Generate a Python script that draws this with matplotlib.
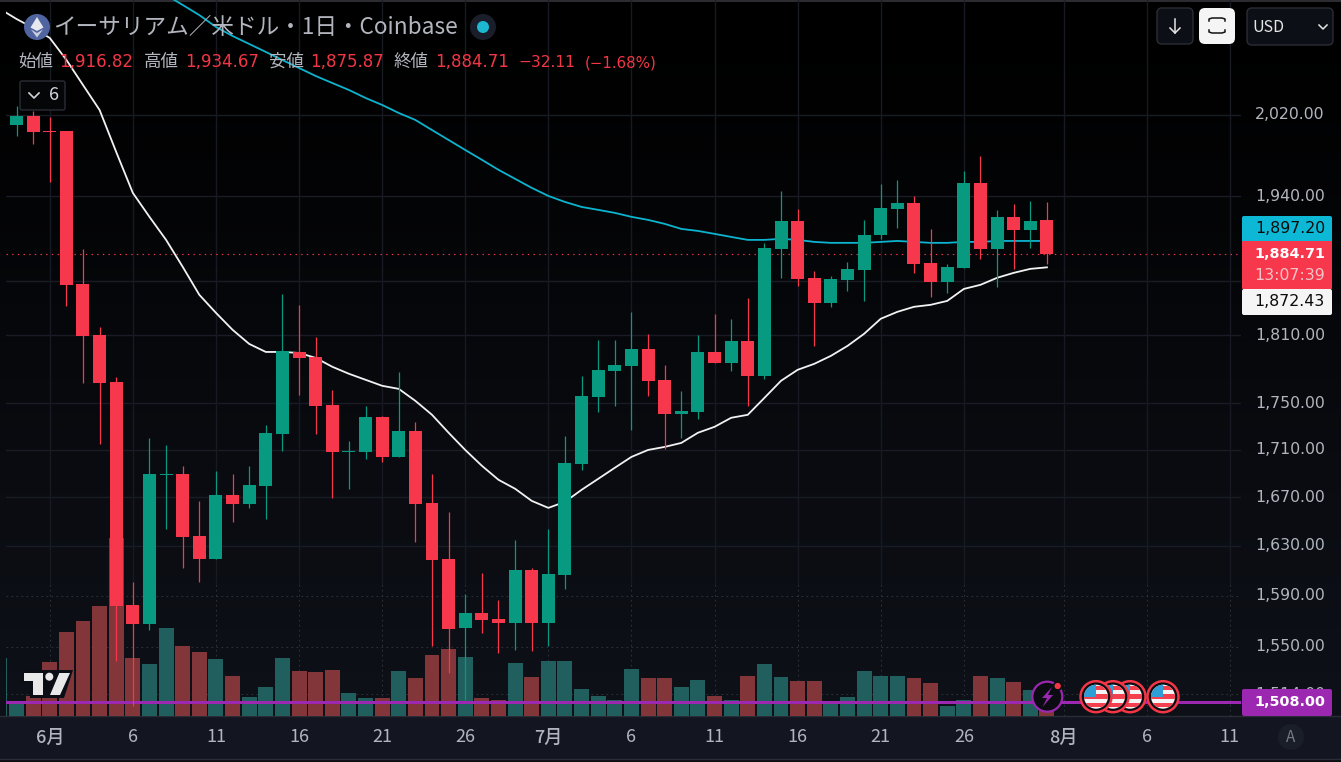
import matplotlib
matplotlib.use('Agg')
import matplotlib.pyplot as plt
import numpy as np
from matplotlib.patches import Circle, FancyBboxPatch, Polygon, Rectangle
from matplotlib.ticker import NullLocator
from matplotlib.transforms import ScaledTranslation

plt.rcParams['font.family'] = ['Noto Sans CJK JP', 'DejaVu Sans']

# daily candles, 30 May to 31 Jul
opens = [2010, 2019, 2004, 2004, 1857.1, 1810.6, 1768.9, 1582.8, 1568, 1688.6,
         1689.5, 1638.2, 1619.5, 1671.9, 1664.4, 1679.5, 1723.5, 1795.2, 1790.8, 1748.5,
         1708, 1708, 1738.1, 1703.8, 1726.1, 1665.2, 1619.5, 1564.9, 1576.6, 1571.9,
         1568.8, 1610.7, 1568.8, 1606.7, 1698, 1755.5, 1778.4, 1782.9, 1797.9, 1770.4,
         1740.7, 1742.5, 1795.2, 1785.5, 1805.1, 1774, 1889.7, 1916.3, 1862.7, 1839.6,
         1860.9, 1870, 1903, 1928, 1933.4, 1876.7, 1859.1, 1872, 1952.8, 1889.7,
         1920.1, 1907.7, 1916.82]
highs = [2029, 2024, 2018, 2004, 1889.7, 1817.8, 1773, 1601, 1720, 1714,
         1696.3, 1666.9, 1692, 1689.5, 1696.3, 1731.2, 1847.9, 1837.8, 1808.8, 1761.6,
         1717.5, 1747.6, 1739, 1777.5, 1733.8, 1689.5, 1657.9, 1591.5, 1608.3, 1586.7,
         1634.9, 1612.3, 1643.9, 1722, 1774, 1806, 1806, 1831.4, 1811.5, 1783.7,
         1760.8, 1810.6, 1829.6, 1825.1, 1844.2, 1895.4, 1945, 1927.7, 1869.2, 1864.6,
         1877.6, 1917.3, 1951.9, 1955.8, 1940.2, 1908.6, 1875.7, 1964.6, 1979.2, 1926.8,
         1932.5, 1935.4, 1934.67]
lows = [1999, 1991, 1954, 1837, 1767.8, 1714.9, 1539.3, 1505, 1563.3, 1643.9,
        1612.3, 1601, 1619.5, 1649.7, 1661.1, 1652.1, 1708.9, 1757.2, 1723.5, 1669.4,
        1677, 1702.1, 1699.6, 1703.8, 1633.3, 1550.8, 1530.2, 1509.7, 1561, 1545.4,
        1547.7, 1546.9, 1550.8, 1595.5, 1692.9, 1742.5, 1747.6, 1726.9, 1756.3, 1710.5,
        1720, 1736.4, 1785.5, 1778.4, 1747.6, 1771.3, 1862.7, 1855.3, 1800.6, 1836,
        1850.7, 1841.4, 1899.2, 1909.6, 1867.3, 1845, 1848.8, 1872, 1880.3, 1854.4,
        1871, 1890.6, 1875.87]
closes = [2019, 2003, 2003, 1856.2, 1809.7, 1768, 1582, 1568, 1689.5, 1689.5,
          1637.4, 1619.5, 1671.9, 1664.4, 1680.3, 1724.4, 1796.1, 1789.9, 1747.6, 1708,
          1709, 1738.1, 1703.8, 1726.1, 1664.4, 1618.7, 1564.1, 1576.6, 1571.1, 1568.8,
          1610.7, 1568.8, 1607.5, 1698.8, 1756.3, 1779.3, 1783.7, 1797.9, 1769.6, 1740.7,
          1743.3, 1795.2, 1785.5, 1805.1, 1774, 1890.6, 1916.3, 1861.8, 1839.6, 1861.8,
          1871, 1903, 1928.8, 1933.4, 1875.7, 1859.1, 1872.9, 1952.8, 1889.7, 1920.1,
          1907.7, 1916.3, 1884.71]

# first value belongs to 29 May, whose bar is cut by the left edge
volumes = [58, 15, 20, 54, 84, 95, 110, 178, 58, 52, 88,
           70, 64, 57, 40, 19, 29, 58, 45, 44, 46,
           23, 18, 18, 45, 38, 61, 67, 59, 18, 16,
           53, 39, 55, 55, 27, 20, 16, 47, 38, 38,
           29, 36, 20, 16, 40, 52, 39, 35, 35, 13,
           19, 45, 40, 40, 38, 33, 10, 16, 40, 38,
           34, 26, 10]

ma_fast = [2129.5, 2118.9, 2109.5, 2099, 2076.2, 2050.4, 2025, 1983.1, 1943.1, 1920.1, 1898.2,
           1872.9, 1847, 1830.5, 1815.1, 1802.4, 1795.2, 1795.2, 1794.3, 1789.9, 1782,
           1775.8, 1770.5, 1765.2, 1762.5, 1752, 1739.9, 1724.4, 1709.7, 1696.3, 1684.5,
           1677, 1666.9, 1661.1, 1666.1, 1676.1, 1685.3, 1694.6, 1703.8, 1709.7, 1712.3,
           1715.7, 1724.4, 1729.5, 1737.3, 1739.9, 1754.6, 1769.6, 1779.3, 1784.6, 1791.7,
           1800.6, 1811.5, 1825.1, 1831.4, 1836, 1837.8, 1841.4, 1852.4, 1856.2, 1862.7,
           1867.3, 1871, 1872.43]
# starts on 8 Jun, above the top of the chart
ma_slow = [2144.3, 2133.7, 2123, 2110.5, 2101, 2092.7, 2084.4, 2076, 2067.8, 2059.6, 2052.4,
           2045.3, 2037.2, 2030.1, 2022, 2015, 2004.9, 1995, 1985.1, 1975.4, 1965.6,
           1956.8, 1948, 1940.2, 1934.4, 1929.6, 1926.8, 1923.9, 1920.1, 1917.2, 1913.4,
           1908.6, 1906.7, 1903.9, 1901, 1898.2, 1898.2, 1899.2, 1898.2, 1896.3, 1895.4,
           1895.4, 1895.4, 1896.3, 1897.2, 1896.3, 1895.4, 1895.4, 1896.3, 1896.3, 1897.2,
           1897.2, 1897.2, 1897.2]

grid_prices = [2020, 1940, 1860, 1810, 1750, 1710, 1670, 1630, 1590, 1550, 1514]
# 1860 has its grid line but its label is hidden by the price boxes
price_ticks = [2020, 1940, 1810, 1750, 1710, 1670, 1630, 1590, 1550, 1514]
date_ticks = [2, 7, 12, 17, 22, 27, 32, 37, 42, 47, 52, 57, 63, 68, 73]
date_labels = ['6月', '6', '11', '16', '21', '26', '7月', '6', '11', '16', '21', '26', '8月', '6', '11']
last_close = 1884.71
alert_price = 1508.00

UP = '#089981'
DOWN = '#f7374b'
W, H = 1341, 762
CHART_L, CHART_R, CHART_B = 6, 1241, 716
NUM = ['DejaVu Sans']

opens = np.array(opens)
closes = np.array(closes)
idx = np.arange(len(closes))
up = closes >= opens

fig = plt.figure(figsize=(W / 100, H / 100), dpi=100)
fig.patch.set_facecolor('#000000')

# background gradient and the time band
ax_bg = fig.add_axes([0, 0, 1, 1], zorder=0)
grad = np.interp(np.linspace(0, 1, 256), [0, 0.15, 0.6, 1], [0, 0.1, 0.62, 1])[:, None, None]
ax_bg.imshow(grad * np.array([15, 18, 26]).reshape(1, 1, 3) / 255, aspect='auto', extent=[0, W, H, 0])
ax_bg.set_xlim(0, W)
ax_bg.set_ylim(H, 0)
ax_bg.axis('off')
ax_bg.add_patch(Rectangle((0, 0), W, 2, color='#2b2b30', lw=0))
ax_bg.add_patch(Rectangle((0, CHART_B), W, H - CHART_B, color='#131620', lw=0))
ax_bg.plot([0, W], [CHART_B, CHART_B], color='#2a2d36', lw=1)
ax_bg.plot([0, W], [759, 759], color='#2a2d36', lw=1)
ax_bg.add_patch(Rectangle((0, 760), W, 2, color='#0c0d11', lw=0))

chart_rect = [CHART_L / W, 1 - CHART_B / H, (CHART_R - CHART_L) / W, CHART_B / H]
xlim = ((CHART_L - 16.5) / 16.62, (CHART_R - 16.5) / 16.62)
ylim = (1497.6, 2139.0)

# axis labels and grid sit on the lowest layer
ax_grid = fig.add_axes(chart_rect, zorder=1)
ax_grid.patch.set_alpha(0)
ax_grid.set_yscale('log')
ax_grid.set_xlim(xlim)
ax_grid.set_ylim(ylim)
for s in ax_grid.spines.values():
    s.set_visible(False)
ax_grid.yaxis.tick_right()
ax_grid.set_yticks(price_ticks)
ax_grid.set_yticklabels(['{:,.2f}'.format(p) for p in price_ticks], family=NUM)
ax_grid.yaxis.set_minor_locator(NullLocator())
ax_grid.set_xticks(date_ticks)
ax_grid.set_xticklabels(date_labels)
ax_grid.tick_params(axis='y', length=0, pad=10, labelsize=11.3, labelcolor='#b2b5be')
ax_grid.tick_params(axis='x', length=0, pad=9, labelsize=13, labelcolor='#b2b5be')
nudge = ScaledTranslation(0, 1.5 / 100, fig.dpi_scale_trans)
for lab in ax_grid.get_yticklabels():
    lab.set_transform(lab.get_transform() + nudge)
for lab, txt in zip(ax_grid.get_xticklabels(), date_labels):
    if '月' in txt:
        lab.set_fontweight('medium')
for p in grid_prices:
    if p >= 1600:
        ax_grid.axhline(p, color='#191c25', lw=1.0)
    else:
        ax_grid.axhline(p, color='#2e313a', lw=0.8, ls=(0, (1.5, 3)))
ax_grid.vlines(date_ticks, 1600, ylim[1], color='#171a23', lw=1.0)
ax_grid.vlines(date_ticks, ylim[0], 1600, color='#2e313a', lw=0.8, ls=(0, (1.5, 3)))

# volume pane, 1 unit = 1 pixel of bar height
ax_vol = fig.add_axes(chart_rect, zorder=2)
ax_vol.patch.set_alpha(0)
ax_vol.axis('off')
ax_vol.set_xlim(xlim)
ax_vol.set_ylim(0, CHART_B)
vol_colors = ['#205f5d'] + ['#205f5d' if u else '#823639' for u in up]
ax_vol.bar(np.arange(-1, len(closes)), volumes, width=0.9, color=vol_colors, linewidth=0)

# candles and lines
ax = fig.add_axes(chart_rect, zorder=3)
ax.patch.set_alpha(0)
ax.axis('off')
ax.set_yscale('log')
ax.set_xlim(xlim)
ax.set_ylim(ylim)
ax.yaxis.set_minor_locator(NullLocator())
ax.plot(np.arange(-1, len(closes)), ma_fast, color='#f2f2f2', lw=1.3, zorder=1)
ax.plot(np.arange(9, len(closes)), ma_slow, color='#0cb4cf', lw=1.3, zorder=1)
ax.axhline(last_close, color='#f23645', lw=0.85, ls=(0, (1.2, 3.6)), zorder=1)
ax.axhline(alert_price, color='#9c27b0', lw=2.2, zorder=1.5)
colors = [UP if u else DOWN for u in up]
ax.vlines(idx, lows, highs, color=colors, lw=0.9, zorder=2)
ax.bar(idx, np.abs(closes - opens), bottom=np.minimum(opens, closes), width=0.78,
       color=colors, linewidth=0, zorder=3)

# screen furniture in pixel coordinates
ui = fig.add_axes([0, 0, 1, 1], zorder=5)
ui.set_xlim(0, W)
ui.set_ylim(H, 0)
ui.axis('off')
ui.patch.set_alpha(0)


def box(x0, y0, x1, y1, fc, ec='none', r=2.0, lw=1.0, z=6):
    p = FancyBboxPatch((x0 + r, y0 + r), x1 - x0 - 2 * r, y1 - y0 - 2 * r,
                       boxstyle='round,pad=%f,rounding_size=%f' % (r, r),
                       fc=fc, ec=ec, lw=lw, zorder=z)
    ui.add_patch(p)


# header
ui.add_patch(Circle((37, 27), 13, fc='#5064a0', ec='none'))
ui.add_patch(Polygon([(37, 17), (43.5, 27.5), (37, 31), (30.5, 27.5)], fc='#e6e8f0', ec='none'))
ui.add_patch(Polygon([(31, 29.5), (37, 33), (43, 29.5), (37, 37.5)], fc='#c9cde0', ec='none'))
ui.text(53, 28, 'イーサリアム／米ドル・1日・Coinbase', color='#b2b5be', fontsize=16.3, va='center')
ui.add_patch(Circle((483, 27), 13, fc='#1a1e2b', ec='none'))
ui.add_patch(Circle((483, 27), 6, fc='#1cb8d2', ec='none'))

gray, red = '#b2b5be', '#f23645'
for x, s in [(18, '始値'), (144, '高値'), (269, '安値'), (394, '終値')]:
    ui.text(x, 62, s, color=gray, fontsize=12.6, va='center')
for x, s, fs in [(59, '1,916.82', 12), (185, '1,934.67', 12), (310, '1,875.87', 12), (435, '1,884.71', 12),
                 (518, '−32.11', 11.2), (585, '(−1.68%)', 10.8)]:
    ui.text(x, 67, s, color=red, fontsize=fs, va='baseline', family=NUM)

box(20, 81, 65, 110, '#050608', ec='#2a2d35')
ui.plot([29, 34, 39], [93, 98, 93], color='#d1d4dc', lw=1.2, zorder=7)
ui.text(49, 95, '6', color='#d1d4dc', fontsize=13, va='center', zorder=7)

# buttons, top right
box(1157, 8, 1193, 44, '#0c0f15', ec='#2a2d35', r=5)
ui.plot([1175, 1175], [19, 33], color='#e6e6e6', lw=1.1, zorder=7)
ui.plot([1170, 1175, 1180], [28, 33, 28], color='#e6e6e6', lw=1.1, zorder=7)
box(1199, 8, 1235, 44, '#f5f5f5', r=6)
ui.plot([1209, 1209, 1212, 1222, 1225, 1225], [21, 19, 18, 18, 19, 21], color='#111', lw=1.1, zorder=7)
ui.plot([1209, 1209, 1212, 1222, 1225, 1225], [30, 32, 33, 33, 32, 30], color='#111', lw=1.1, zorder=7)
box(1247, 8, 1333, 45, '#0c0f15', ec='#2a2d35', r=5)
ui.text(1252, 27, 'USD', color='#e6e6e6', fontsize=11.5, va='center', zorder=7)
ui.plot([1319, 1323, 1327], [25, 29, 25], color='#e6e6e6', lw=1.1, zorder=7)

# price labels
box(1242, 216, 1332, 243, '#0cb8d6', r=2)
ui.text(1325, 228.5, '1,897.20', color='#0b0b0b', fontsize=11.3, va='center', ha='right', zorder=7, family=NUM)
box(1242, 241, 1332, 289, '#f7374b', r=1)
ui.text(1325, 254, '1,884.71', color='#ffffff', fontsize=10.4, va='center', ha='right', zorder=7, family=NUM, fontweight='bold')
ui.text(1325, 275, '13:07:39', color='#f3c3c8', fontsize=11.3, va='center', ha='right', zorder=7, family=NUM)
box(1242, 289, 1332, 315, '#f5f5f5', r=2)
ui.text(1325, 301.5, '1,872.43', color='#0b0b0b', fontsize=11.3, va='center', ha='right', zorder=7, family=NUM)
box(1242, 689, 1332, 716, '#9c27b0', r=2)
ui.text(1325, 702, '1,508.00', color='#ffffff', fontsize=10.4, va='center', ha='right', zorder=7, family=NUM, fontweight='bold')

# auto scale button in the time band
ui.add_patch(Circle((1291, 737), 13, fc='#1a1e28', ec='none', zorder=6))
ui.text(1291, 737, 'A', color='#787b86', fontsize=11, va='center', ha='center', zorder=7)

# chart logo
ui.add_patch(Polygon([(21, 670), (73, 670), (64, 698), (30, 698), (30, 683), (21, 683)], fc='#0b0e14', ec='none', zorder=6))
ui.add_patch(Polygon([(24, 673), (43, 673), (43, 695), (33, 695), (33, 681), (24, 681)], fc='#e9e9ea', ec='none', zorder=7))
ui.add_patch(Circle((49.3, 676.7), 4, fc='#e9e9ea', ec='none', zorder=7))
ui.add_patch(Polygon([(59.3, 673), (70, 673), (60, 695), (50, 695)], fc='#e9e9ea', ec='none', zorder=7))

# event icons on the time scale line
ui.add_patch(Circle((1047.3, 696.7), 15, fc='#0a0c11', ec='#9c27b0', lw=1.6, zorder=6))
ui.add_patch(Polygon([(1052, 687), (1042, 698), (1047, 698), (1042.5, 707), (1053, 695), (1048, 695)],
                     fc='#9c27b0', ec='none', zorder=7))
ui.add_patch(Circle((1057.7, 686), 4, fc='#f23645', ec='#0a0c11', lw=1.2, zorder=7))


def flag(cx, z):
    ui.add_patch(Circle((cx, 696.7), 15.5, fc='#0a0c11', ec='#f23645', lw=1.8, zorder=z))
    clip = Circle((cx, 696.7), 12, fc='#f4f4f4', ec='none', zorder=z + 0.1)
    ui.add_patch(clip)
    for k in range(3):
        r = Rectangle((cx - 13, 686 + k * 8.3), 26, 4.2, fc='#f2404f', ec='none', zorder=z + 0.2)
        ui.add_patch(r)
        r.set_clip_path(clip)
    c = Rectangle((cx - 13, 684), 13, 12.5, fc='#2d9fd6', ec='none', zorder=z + 0.3)
    ui.add_patch(c)
    c.set_clip_path(clip)


flag(1163, 6)
flag(1130, 6.4)
flag(1113, 6.8)
flag(1096, 7.2)

fig.savefig('out.png', dpi=100, facecolor=fig.get_facecolor())
